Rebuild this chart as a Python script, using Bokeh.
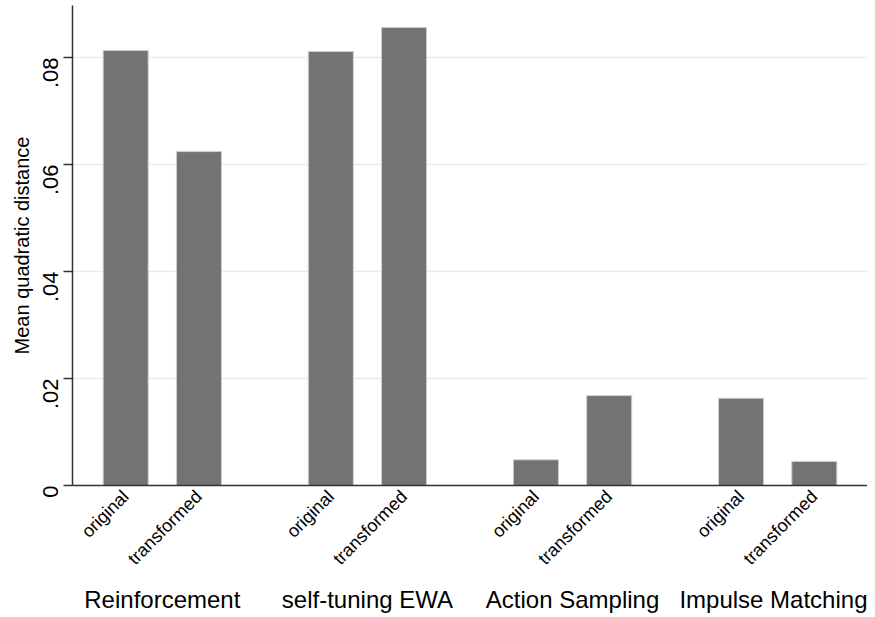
import math
from bokeh.plotting import figure
from bokeh.models import Range1d, FixedTicker, CustomJSTickFormatter, LinearAxis
from bokeh.embed import file_html
from bokeh.resources import INLINE

# ---- data ----
groups = ["Reinforcement", "self-tuning EWA", "Action Sampling", "Impulse Matching"]
subs = ["original", "transformed"]
original = [0.0813, 0.0811, 0.0048, 0.0163]
transformed = [0.0624, 0.0856, 0.0168, 0.0045]
y_ticks = [0, 0.02, 0.04, 0.06, 0.08]

# ---- layout of categories on the x scale ----
GROUP_STEP = 28
SUB_STEP = 10
BAR_W = 6.15

xs, tops, sub_labels = [], [], {}
for gi, g in enumerate(groups):
    for si, vals in enumerate([original, transformed]):
        x = gi * GROUP_STEP + si * SUB_STEP
        xs.append(x)
        tops.append(vals[gi])
        sub_labels[x] = subs[si]
group_centers = {gi * GROUP_STEP + SUB_STEP // 2: g for gi, g in enumerate(groups)}

FONT = "Liberation Sans"

p = figure(width=867, height=615, output_backend="svg", toolbar_location=None,
           x_range=Range1d(-7.26, 3 * GROUP_STEP + SUB_STEP + 7.26),
           y_range=Range1d(0, 0.0897),
           min_border_left=72, min_border_right=0, min_border_top=5, min_border_bottom=130)
p.outline_line_color = None
p.background_fill_color = "white"
p.border_fill_color = "white"

p.vbar(x=xs, top=tops, width=BAR_W, bottom=0,
       fill_color="#737373", line_color="#cfcfcf", line_width=1)

# grid
p.xgrid.visible = False
p.ygrid.ticker = FixedTicker(ticks=y_ticks[1:])
p.ygrid.grid_line_color = "#eaeaea"
p.ygrid.grid_line_width = 1.5

# y axis
ya = p.yaxis[0]
ya.ticker = FixedTicker(ticks=y_ticks)
ya.formatter = CustomJSTickFormatter(code="return tick == 0 ? '0' : tick.toFixed(2).replace(/^0/, '');")
ya.major_label_orientation = math.pi / 2
ya.major_label_text_font = FONT
ya.major_label_text_font_size = "22px"
ya.major_label_text_color = "black"
ya.major_label_standoff = 13
ya.major_tick_out = 9
ya.major_tick_in = 0
ya.minor_tick_line_color = None
ya.axis_line_color = "#333333"
ya.axis_line_width = 1.5
ya.major_tick_line_color = "#333333"
ya.major_tick_line_width = 1.5
ya.axis_label = "Mean quadratic distance"
ya.axis_label_text_font = FONT
ya.axis_label_text_font_size = "20px"
ya.axis_label_text_font_style = "normal"
ya.axis_label_text_color = "black"
ya.axis_label_standoff = 0

# x axis: sub labels
xa = p.xaxis[0]
xa.ticker = FixedTicker(ticks=xs)
xa.major_label_overrides = sub_labels
xa.major_label_orientation = math.pi / 4
xa.major_label_text_font = FONT
xa.major_label_text_font_size = "18px"
xa.major_label_text_color = "black"
xa.major_label_standoff = 2
xa.major_tick_line_color = None
xa.minor_tick_line_color = None
xa.axis_line_color = "#333333"
xa.axis_line_width = 1.5

# x axis: group labels
ga = LinearAxis(ticker=FixedTicker(ticks=list(group_centers.keys())),
                major_label_overrides=group_centers)
ga.major_label_text_font = FONT
ga.major_label_text_font_size = "24px"
ga.major_label_text_color = "black"
ga.major_label_standoff = 1
ga.major_tick_line_color = None
ga.minor_tick_line_color = None
ga.axis_line_color = None
p.add_layout(ga, "below")

open("out.html", "w").write(file_html(p, INLINE))
